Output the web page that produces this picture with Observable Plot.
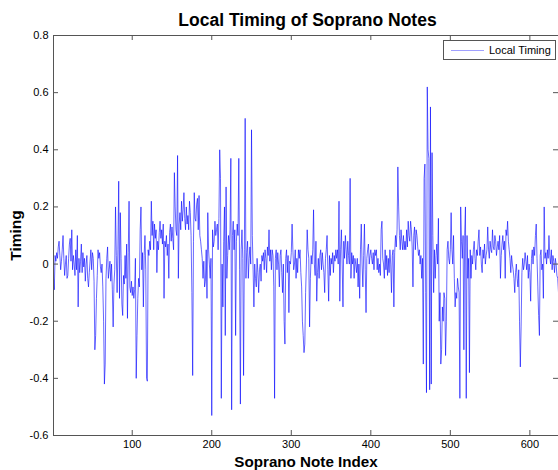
<!DOCTYPE html>
<html><head><meta charset="utf-8">
<script src="https://cdn.jsdelivr.net/npm/d3@7"></script>
<script src="https://cdn.jsdelivr.net/npm/@observablehq/plot@0.6"></script>
<style>
html,body{margin:0;padding:0;background:#fff;overflow:hidden}
#wrap{position:relative;width:558px;height:470px}
#legend{position:absolute;left:443px;top:40px;width:111px;height:18px;border:1px solid #555;background:#fff;font:11px "Liberation Sans",Arial,sans-serif;color:#000;box-sizing:content-box}
#legend .ln{position:absolute;left:7px;top:9px;width:33px;height:0;border-top:1px solid #a0a0ff}
#legend .tx{position:absolute;left:45px;top:2px;line-height:15px;white-space:nowrap}
</style></head>
<body>
<div id="wrap"></div>
<script>
const title = "Local Timing of Soprano Notes";
const xLabel = "Soprano Note Index";
const yLabel = "Timing";
const seriesName = "Local Timing";
const xTicks = [100, 200, 300, 400, 500, 600];
const yTicks = [-0.6, -0.4, -0.2, 0, 0.2, 0.4, 0.6, 0.8];
const timing = [
 -0.05,-0.09,0.03,0.01,0.04,0.02,0.06,0.08,0.03,-0.02,
 0.01,0.05,0.10,0.02,-0.04,0.0,0.03,-0.05,-0.04,0.02,
 0.07,0.09,0.01,0.12,-0.02,0.03,0.0,-0.04,0.05,-0.02,
 0.10,-0.15,0.02,-0.03,0.01,0.07,-0.03,0.04,-0.01,0.02,
 -0.06,0.0,0.03,-0.05,-0.08,-0.03,0.01,0.05,-0.02,0.04,
 0.02,-0.06,-0.30,-0.25,-0.12,-0.04,0.05,0.02,0.04,-0.01,
 -0.03,0.0,-0.08,-0.20,-0.42,-0.35,-0.05,0.02,0.06,-0.05,
 -0.02,0.01,-0.06,0.0,-0.09,-0.22,-0.07,-0.02,0.20,0.03,
 -0.10,0.05,0.29,-0.12,0.18,0.02,-0.14,-0.18,-0.04,-0.07,
 0.03,-0.05,0.07,-0.19,0.04,0.22,-0.08,-0.10,-0.06,-0.11,
 -0.08,-0.12,-0.09,0.02,-0.40,-0.25,-0.12,-0.05,-0.08,0.12,
 0.20,-0.02,0.04,-0.15,0.03,0.10,-0.02,-0.40,-0.41,0.05,
 0.03,0.08,0.05,0.22,0.10,0.15,0.05,0.14,0.09,0.12,
 -0.03,0.08,0.05,0.11,0.15,0.09,0.12,0.07,0.14,-0.12,
 0.08,0.06,0.10,0.03,0.07,-0.05,0.11,0.14,0.08,0.13,
 0.09,0.05,0.32,0.20,0.12,0.10,0.38,-0.05,0.14,0.18,
 0.12,0.22,0.15,0.19,0.25,0.16,0.12,0.20,0.14,0.17,
 0.12,0.22,0.18,0.10,-0.10,-0.39,0.08,0.25,0.16,0.15,
 0.21,0.23,0.12,0.24,0.10,0.08,0.05,0.02,-0.05,0.01,
 -0.08,-0.06,0.05,-0.12,0.18,0.05,0.0,-0.05,0.02,-0.53,
 0.12,0.06,0.08,0.15,0.10,0.12,0.14,0.05,0.16,0.40,
 0.30,-0.47,0.0,-0.15,0.08,0.20,-0.25,0.27,-0.05,0.03,
 0.10,0.05,0.12,0.37,-0.51,0.10,0.15,0.05,0.12,-0.25,
 0.08,0.14,0.10,0.37,-0.02,-0.49,0.05,0.12,0.02,-0.39,
 0.05,0.51,-0.05,0.04,0.08,-0.05,0.02,0.06,0.0,0.47,
 0.10,-0.02,-0.15,0.0,-0.05,-0.08,0.02,-0.03,-0.10,-0.02,
 0.0,-0.06,0.03,0.01,0.04,-0.02,0.05,0.02,-0.03,0.06,
 0.03,0.12,0.01,0.05,-0.02,0.05,0.03,-0.08,-0.47,0.02,
 0.05,-0.02,0.04,0.0,-0.08,0.03,0.05,-0.03,-0.10,0.0,
 -0.20,-0.28,0.02,0.05,-0.03,0.03,-0.17,0.01,0.0,0.04,
 0.14,0.05,-0.02,0.0,0.05,-0.05,0.02,-0.03,0.05,0.02,
 0.05,-0.03,-0.08,-0.20,-0.25,-0.31,-0.28,-0.10,0.0,0.12,
 0.05,0.02,-0.22,-0.05,0.03,0.0,0.05,0.19,0.0,-0.04,
 0.08,-0.13,-0.03,0.02,-0.05,0.03,0.05,-0.02,0.04,0.0,
 -0.03,-0.10,0.02,0.05,0.10,-0.02,-0.13,0.03,-0.04,0.02,
 0.0,0.04,-0.03,0.03,0.01,0.05,0.02,0.05,0.0,0.22,
 -0.13,0.05,0.12,0.0,-0.15,0.08,0.02,0.10,0.05,0.0,
 0.08,0.03,0.0,0.30,-0.05,0.04,0.0,0.03,-0.05,0.02,
 0.0,-0.03,0.02,-0.08,0.0,-0.12,0.05,0.14,0.0,-0.08,
 0.03,0.14,-0.02,-0.17,0.02,0.05,0.07,0.0,0.03,0.05,
 0.02,0.0,0.04,-0.02,0.05,0.03,0.05,-0.02,0.02,-0.03,
 0.0,-0.04,0.12,0.15,0.02,0.0,-0.05,0.05,-0.02,0.03,
 -0.04,0.02,-0.03,0.05,0.0,-0.10,0.03,0.05,-0.15,0.04,
 0.10,0.06,0.12,0.34,0.20,0.10,0.05,0.12,0.08,0.05,
 0.10,0.05,0.08,0.05,0.12,0.06,0.15,0.10,0.08,0.15,
 0.12,0.06,-0.08,0.10,0.13,0.05,0.12,0.10,0.06,0.03,
 0.05,0.0,0.03,-0.05,0.02,-0.35,0.30,0.35,-0.10,-0.45,
 0.62,0.40,0.37,-0.44,0.55,-0.42,0.39,0.10,-0.10,0.05,
 -0.05,0.03,0.07,0.0,0.16,-0.20,-0.10,-0.35,-0.30,-0.15,
 -0.20,-0.10,-0.12,-0.32,-0.20,0.05,0.08,0.02,0.0,0.05,
 0.18,0.05,0.0,0.10,-0.05,-0.15,-0.10,-0.12,-0.05,-0.08,
 -0.10,-0.47,0.20,0.08,0.02,0.10,-0.30,0.10,0.20,-0.47,
 0.10,-0.05,0.02,-0.38,0.05,-0.05,0.03,0.0,0.05,0.08,
 0.02,-0.02,0.05,0.03,0.08,0.12,0.03,0.06,0.0,-0.03,
 0.05,0.02,0.07,0.0,0.03,0.05,0.13,0.05,0.02,0.08,
 0.05,0.04,0.12,0.06,0.05,0.10,0.08,0.03,0.06,0.08,
 0.05,0.10,-0.05,0.03,0.07,0.10,0.05,0.08,-0.05,0.12,
 0.10,0.15,0.08,0.05,0.02,-0.03,0.03,0.0,-0.02,-0.05,
 -0.10,-0.03,0.0,-0.05,-0.08,-0.02,-0.20,-0.36,-0.22,-0.03,
 0.02,-0.02,0.0,0.04,0.01,-0.02,0.03,-0.05,0.0,-0.03,
 -0.13,0.02,0.05,0.0,0.06,0.03,0.10,0.14,0.02,-0.08,
 -0.18,-0.25,0.03,0.05,-0.02,0.0,-0.12,0.20,0.02,0.04,
 0.0,0.05,0.02,0.10,0.03,0.0,0.05,-0.02,0.03,0.01,
 -0.03,0.02,0.0,-0.04,-0.05,-0.10
];

const data = timing.map((v, i) => ({index: i + 1, timing: v}));
const axisColor = "#555";
const fontFamily = '"Liberation Sans", Arial, Helvetica, sans-serif';

const chart = Plot.plot({
  width: 558,
  height: 470,
  marginTop: 35,
  marginBottom: 35,
  marginLeft: 53,
  marginRight: 0,
  style: {fontFamily, fontSize: "11px", background: "white", color: "black"},
  x: {domain: [1, 636]},
  y: {domain: [-0.6, 0.8]},
  marks: [
    Plot.line(data, {x: "index", y: "timing", stroke: "#0000ff", strokeWidth: 0.6}),
    Plot.frame({stroke: axisColor}),
    Plot.ruleX(xTicks, {x: d => d, insetTop: 395, stroke: axisColor}),
    Plot.ruleX(xTicks, {x: d => d, insetBottom: 395, stroke: axisColor}),
    Plot.ruleY(yTicks, {y: d => d, insetRight: 500, stroke: axisColor}),
    Plot.ruleY(yTicks, {y: d => d, insetLeft: 500, stroke: axisColor}),
    Plot.axisX(xTicks, {tickSize: 0, tickPadding: 5, label: null, fontSize: 11}),
    Plot.axisY(yTicks, {tickSize: 0, tickPadding: 5, label: null, fontSize: 11,
      tickFormat: d => d === 0 ? "0" : String(+d.toFixed(1))}),
    Plot.text([title], {text: d => d, frameAnchor: "top", textAnchor: "middle", lineAnchor: "middle",
      dy: -15.5, dx: 1.5, fontSize: 17.5, fontWeight: "bold"}),
    Plot.text([xLabel], {text: d => d, frameAnchor: "bottom", textAnchor: "middle", lineAnchor: "middle",
      dy: 26.5, fontSize: 15.2, fontWeight: "bold"}),
    Plot.text([yLabel], {text: d => d, frameAnchor: "left", textAnchor: "middle", lineAnchor: "middle",
      dx: -37, rotate: -90, fontSize: 15.5, fontWeight: "bold"})
  ]
});

const wrap = document.getElementById("wrap");
wrap.appendChild(chart);
const legend = document.createElement("div");
legend.id = "legend";
legend.innerHTML = '<div class="ln"></div><div class="tx"></div>';
legend.querySelector(".tx").textContent = seriesName;
wrap.appendChild(legend);
</script>
</body></html>
